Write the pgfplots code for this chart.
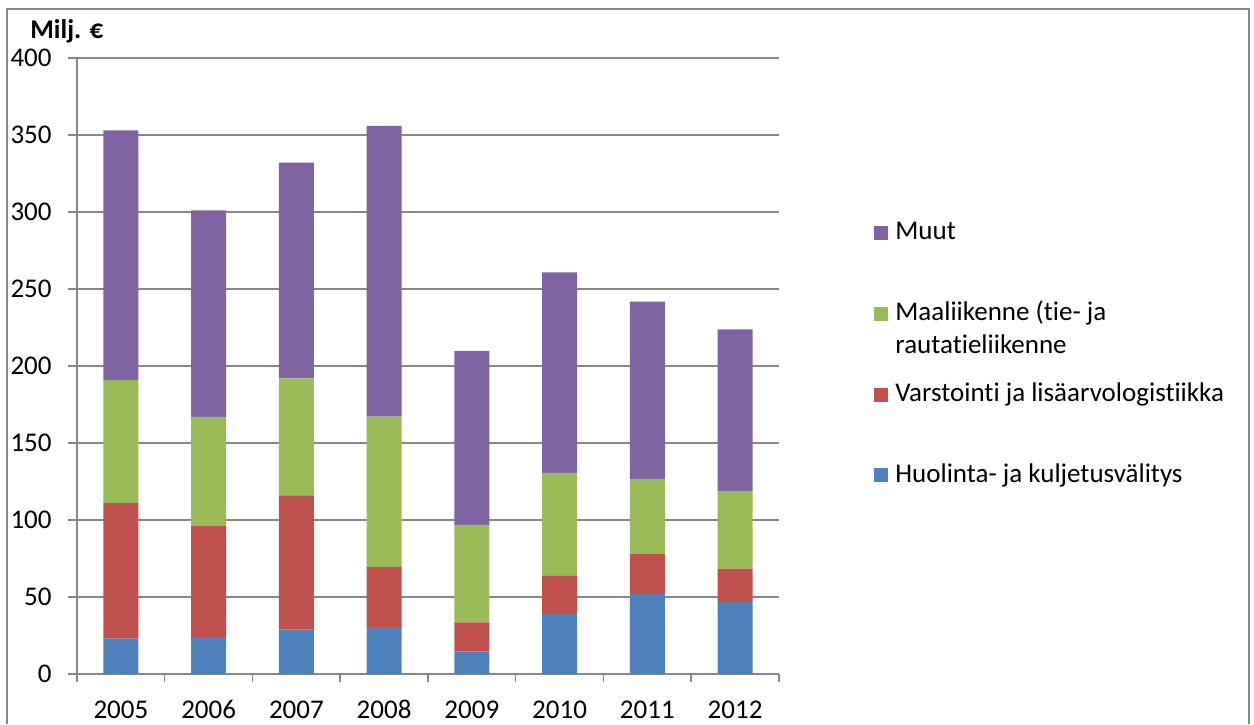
\documentclass[border=0pt]{standalone}
\usepackage{pgfplots}
\pgfplotsset{compat=1.18}
\usepackage{fontspec}
\setmainfont{Carlito}[Ligatures=NoCommon]

\definecolor{cBlue}{HTML}{4F81BD}
\definecolor{cRed}{HTML}{C0504D}
\definecolor{cGreen}{HTML}{9BBB59}
\definecolor{cPurple}{HTML}{8064A2}
\definecolor{gridgray}{HTML}{878787}

\newcommand{\chartfont}{\fontsize{13.5pt}{16pt}\selectfont}

\begin{document}
\begin{tikzpicture}[x=0.5pt,y=0.5pt,font=\chartfont]
\useasboundingbox (0,0) rectangle (1254,724);
% outer chart frame
\draw[line width=0.75pt, gridgray] (7,0) -- (7,715) -- (1249,715) -- (1249,0);

\begin{axis}[
  at={(38.5pt,25pt)}, anchor=south west,
  scale only axis, width=351pt, height=308pt,
  ybar stacked, bar width=17.5pt,
  xmin=0.5, xmax=8.5, ymin=0, ymax=400,
  xtick={1,...,8},
  xticklabels={2005,2006,2007,2008,2009,2010,2011,2012},
  minor xtick={0.5,1.5,2.5,3.5,4.5,5.5,6.5,7.5,8.5},
  ytick={0,50,...,400},
  axis x line*=bottom, axis y line*=left,
  axis line style={-, gridgray, line width=0.75pt},
  tick align=outside,
  major tick length=4.5pt, minor tick length=4pt,
  major x tick style={draw=none},
  minor x tick style={gridgray, line width=0.75pt},
  y tick style={gridgray, line width=0.75pt},
  ymajorgrids, grid style={gridgray, line width=0.75pt},
  /pgf/number format/assume math mode=true,
  tick label style={font=\chartfont, inner sep=0pt},
  x tick label style={anchor=base, yshift=-17.5pt},
  y tick label style={anchor=east, xshift=-8pt},
]
% Huolinta- ja kuljetusvälitys
\addplot[fill=cBlue, draw=none] coordinates
  {(1,23) (2,24) (3,29) (4,30.5) (5,14.7) (6,38.8) (7,51.8) (8,46.6)};
% Varstointi ja lisäarvologistiikka
\addplot[fill=cRed, draw=none] coordinates
  {(1,88) (2,72) (3,87) (4,39) (5,18.9) (6,24.9) (7,26) (8,21.9)};
% Maaliikenne (tie- ja rautatieliikenne)
\addplot[fill=cGreen, draw=none] coordinates
  {(1,80) (2,71) (3,76) (4,97.6) (5,63.2) (6,66.9) (7,48.9) (8,50.4)};
% Muut
\addplot[fill=cPurple, draw=none] coordinates
  {(1,162) (2,134) (3,140) (4,188.9) (5,113.1) (6,130.2) (7,115.1) (8,104.9)};
\end{axis}

% unit label
\node[font=\chartfont\bfseries, anchor=base west, inner sep=0pt] at (30,685) {Milj. €};

% legend
\fill[cPurple]  (873.5,484) rectangle ++(14.5,14);
\node[anchor=base west, inner sep=0pt] at (895,484) {Muut};
\fill[cGreen]   (873.5,403) rectangle ++(14.5,14);
\node[anchor=base west, inner sep=0pt] at (895,403) {Maaliikenne (tie- ja};
\node[anchor=base west, inner sep=0pt] at (895,370) {rautatieliikenne};
\fill[cRed]     (873.5,322) rectangle ++(14.5,14);
\node[anchor=base west, inner sep=0pt] at (895,322) {Varstointi ja lisäarvologistiikka};
\fill[cBlue]    (873.5,242) rectangle ++(14.5,14);
\node[anchor=base west, inner sep=0pt] at (895,242) {Huolinta- ja kuljetusvälitys};
\end{tikzpicture}
\end{document}
